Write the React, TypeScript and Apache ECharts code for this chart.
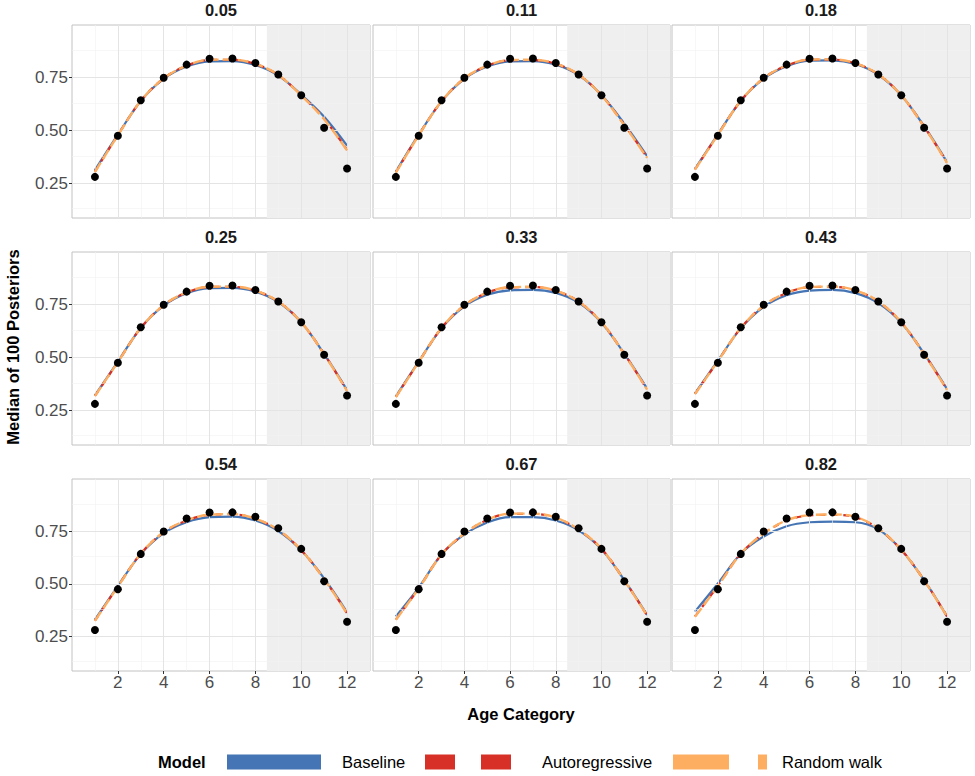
import React, { useEffect, useRef } from "react";
import * as echarts from "echarts";

// ---------- data ----------
const ages = [1, 2, 3, 4, 5, 6, 7, 8, 9, 10, 11, 12];
const panelLabels = ["0.05", "0.11", "0.18", "0.25", "0.33", "0.43", "0.54", "0.67", "0.82"];
const observed = [0.28, 0.475, 0.643, 0.75, 0.812, 0.84, 0.841, 0.82, 0.765, 0.667, 0.513, 0.32];

const baseline = [
  [0.312, 0.48, 0.64, 0.745, 0.803, 0.828, 0.829, 0.81, 0.76, 0.67, 0.565, 0.428],
  [0.305, 0.48, 0.638, 0.745, 0.803, 0.828, 0.829, 0.812, 0.763, 0.668, 0.532, 0.378],
  [0.318, 0.482, 0.64, 0.746, 0.805, 0.831, 0.832, 0.815, 0.764, 0.667, 0.52, 0.35],
  [0.32, 0.48, 0.64, 0.746, 0.805, 0.829, 0.83, 0.812, 0.763, 0.667, 0.517, 0.345],
  [0.316, 0.48, 0.638, 0.742, 0.797, 0.818, 0.82, 0.806, 0.76, 0.665, 0.518, 0.352],
  [0.33, 0.485, 0.638, 0.74, 0.795, 0.817, 0.82, 0.805, 0.758, 0.665, 0.518, 0.35],
  [0.33, 0.49, 0.642, 0.742, 0.794, 0.818, 0.821, 0.802, 0.752, 0.66, 0.526, 0.365],
  [0.345, 0.482, 0.64, 0.736, 0.793, 0.818, 0.818, 0.802, 0.755, 0.665, 0.518, 0.352],
  [0.368, 0.502, 0.644, 0.726, 0.775, 0.794, 0.797, 0.794, 0.76, 0.663, 0.518, 0.345],
];
const autoregressive = [
  [0.305, 0.478, 0.64, 0.747, 0.807, 0.834, 0.835, 0.815, 0.763, 0.667, 0.555, 0.408],
  [0.302, 0.478, 0.638, 0.747, 0.807, 0.833, 0.834, 0.816, 0.765, 0.667, 0.527, 0.372],
  [0.315, 0.48, 0.64, 0.748, 0.808, 0.835, 0.836, 0.818, 0.766, 0.667, 0.518, 0.347],
  [0.318, 0.478, 0.64, 0.748, 0.808, 0.834, 0.835, 0.816, 0.765, 0.667, 0.516, 0.342],
  [0.313, 0.478, 0.64, 0.747, 0.807, 0.832, 0.834, 0.816, 0.765, 0.667, 0.517, 0.348],
  [0.327, 0.482, 0.64, 0.745, 0.806, 0.833, 0.835, 0.818, 0.765, 0.667, 0.517, 0.347],
  [0.325, 0.488, 0.644, 0.746, 0.802, 0.829, 0.832, 0.81, 0.756, 0.661, 0.524, 0.36],
  [0.33, 0.478, 0.64, 0.739, 0.805, 0.834, 0.834, 0.815, 0.758, 0.668, 0.518, 0.35],
  [0.345, 0.49, 0.644, 0.739, 0.802, 0.826, 0.829, 0.818, 0.763, 0.663, 0.518, 0.345],
];
const randomWalk = [
  [0.303, 0.477, 0.64, 0.747, 0.807, 0.835, 0.836, 0.816, 0.763, 0.666, 0.553, 0.405],
  [0.3, 0.477, 0.638, 0.747, 0.807, 0.834, 0.835, 0.817, 0.765, 0.666, 0.525, 0.37],
  [0.314, 0.479, 0.64, 0.748, 0.808, 0.836, 0.837, 0.819, 0.766, 0.667, 0.517, 0.346],
  [0.317, 0.478, 0.64, 0.748, 0.809, 0.835, 0.836, 0.817, 0.765, 0.667, 0.515, 0.341],
  [0.312, 0.478, 0.64, 0.747, 0.808, 0.833, 0.835, 0.817, 0.765, 0.667, 0.516, 0.347],
  [0.326, 0.482, 0.64, 0.745, 0.807, 0.834, 0.836, 0.819, 0.766, 0.667, 0.516, 0.346],
  [0.324, 0.487, 0.644, 0.747, 0.803, 0.83, 0.833, 0.811, 0.757, 0.661, 0.523, 0.359],
  [0.329, 0.478, 0.64, 0.74, 0.806, 0.835, 0.835, 0.816, 0.759, 0.668, 0.517, 0.349],
  [0.343, 0.489, 0.644, 0.74, 0.803, 0.828, 0.831, 0.82, 0.764, 0.663, 0.517, 0.344],
];

const xTicks = [2, 4, 6, 8, 10, 12];
const xMinor = [1, 3, 5, 7, 9, 11];
const yTicks = [0.25, 0.5, 0.75];
const yMinor = [0.125, 0.375, 0.625, 0.875];
const shadeFrom = 8.5;
const legendLabels = ["Baseline", "Autoregressive", "Random walk"];

// ---------- style ----------
const FONT = "'Liberation Sans', Arial, Helvetica, sans-serif";
const BLUE = "#4575b4";
const RED = "#d73027";
const ORANGE = "#fdae61";
const X_MIN = 0;
const X_MAX = 13;
const Y_MIN = 0.085;
const Y_MAX = 1.0;

const colLeft = [72, 373, 672];
const colWidth = [298, 297, 298];
const rowTop = [25, 252, 479];
const rowHeight = [193, 193, 192];

function buildOption() {
  const grid: any[] = [];
  const xAxis: any[] = [];
  const yAxis: any[] = [];
  const series: any[] = [];
  const graphic: any[] = [];

  panelLabels.forEach((label, i) => {
    const r = Math.floor(i / 3);
    const c = i % 3;
    grid.push({
      left: colLeft[c],
      top: rowTop[r],
      width: colWidth[c],
      height: rowHeight[r],
      show: true,
      borderColor: "#c2c2c2",
      borderWidth: 1,
      backgroundColor: "#ffffff",
      containLabel: false,
    });
    xAxis.push({
      gridIndex: i,
      type: "value",
      min: X_MIN,
      max: X_MAX,
      axisLine: { show: false },
      axisTick: {
        show: r === 2,
        customValues: xTicks,
        length: 3,
        lineStyle: { color: "#333333", width: 1 },
      },
      axisLabel: {
        show: r === 2,
        customValues: xTicks,
        fontSize: 17,
        fontFamily: FONT,
        color: "#4d4d4d",
        margin: 3,
      },
      splitLine: { show: false },
    });
    yAxis.push({
      gridIndex: i,
      type: "value",
      min: Y_MIN,
      max: Y_MAX,
      axisLine: { show: false },
      axisTick: {
        show: c === 0,
        customValues: yTicks,
        length: 3,
        lineStyle: { color: "#333333", width: 1 },
      },
      axisLabel: {
        show: c === 0,
        customValues: yTicks,
        fontSize: 17,
        fontFamily: FONT,
        color: "#4d4d4d",
        margin: 4,
        formatter: (v: number) => v.toFixed(2),
      },
      splitLine: { show: false },
    });

    const majorStyle = { color: "#e4e4e4", width: 1, type: "solid" };
    const minorStyle = { color: "#f1f1f1", width: 0.6, type: "solid" };
    const gridLines: any[] = [
      ...xMinor.map((v) => ({ xAxis: v, lineStyle: minorStyle })),
      ...yMinor.map((v) => ({ yAxis: v, lineStyle: minorStyle })),
      ...xTicks.map((v) => ({ xAxis: v, lineStyle: majorStyle })),
      ...yTicks.map((v) => ({ yAxis: v, lineStyle: majorStyle })),
    ];
    series.push({
      type: "line",
      xAxisIndex: i,
      yAxisIndex: i,
      data: [],
      z: 1,
      silent: true,
      markLine: {
        silent: true,
        symbol: ["none", "none"],
        label: { show: false },
        animation: false,
        data: gridLines,
      },
    });
    series.push({
      type: "line",
      xAxisIndex: i,
      yAxisIndex: i,
      data: [],
      z: 2,
      silent: true,
      markArea: {
        silent: true,
        itemStyle: { color: "#efefef" },
        label: { show: false },
        data: [[{ xAxis: shadeFrom }, { xAxis: X_MAX }]],
      },
    });
    series.push({
      name: legendLabels[0],
      type: "line",
      xAxisIndex: i,
      yAxisIndex: i,
      data: ages.map((a, k) => [a, baseline[i][k]]),
      smooth: 0.35,
      showSymbol: false,
      z: 3,
      lineStyle: { color: BLUE, width: 2.2 },
    });
    series.push({
      name: legendLabels[1],
      type: "line",
      xAxisIndex: i,
      yAxisIndex: i,
      data: ages.map((a, k) => [a, autoregressive[i][k]]),
      smooth: 0.35,
      showSymbol: false,
      z: 4,
      lineStyle: { color: RED, width: 2.2, type: [6, 6] },
    });
    series.push({
      name: legendLabels[2],
      type: "line",
      xAxisIndex: i,
      yAxisIndex: i,
      data: ages.map((a, k) => [a, randomWalk[i][k]]),
      smooth: 0.35,
      showSymbol: false,
      z: 5,
      lineStyle: { color: ORANGE, width: 2.4, type: [11, 4] },
    });
    series.push({
      name: "Observed",
      type: "scatter",
      xAxisIndex: i,
      yAxisIndex: i,
      data: ages.map((a, k) => [a, observed[k]]),
      symbolSize: 8,
      z: 6,
      itemStyle: { color: "#000000", opacity: 1 },
    });

    graphic.push({
      type: "text",
      x: colLeft[c] + colWidth[c] / 2,
      y: rowTop[r] - 15,
      style: {
        text: label,
        fontSize: 16.5,
        fontWeight: "bold",
        fontFamily: FONT,
        fill: "#1a1a1a",
        align: "center",
        verticalAlign: "middle",
        textAlign: "center",
        textVerticalAlign: "middle",
      },
    });
  });

  // axis titles
  graphic.push({
    type: "text",
    x: 521,
    y: 714,
    style: {
      text: "Age Category",
      fontSize: 16.5,
      fontWeight: "bold",
      fontFamily: FONT,
      fill: "#000000",
      align: "center",
      verticalAlign: "middle",
      textAlign: "center",
      textVerticalAlign: "middle",
    },
  });
  graphic.push({
    type: "text",
    x: 13,
    y: 347,
    rotation: Math.PI / 2,
    style: {
      text: "Median of 100 Posteriors",
      fontSize: 16.5,
      fontWeight: "bold",
      fontFamily: FONT,
      fill: "#000000",
      align: "center",
      verticalAlign: "middle",
      textAlign: "center",
      textVerticalAlign: "middle",
    },
  });

  // legend
  const ly = 762;
  const txt = (text: string, x: number, bold = false) => ({
    type: "text",
    x,
    y: ly,
    style: {
      text,
      fontSize: 16.5,
      fontWeight: bold ? "bold" : "normal",
      fontFamily: FONT,
      fill: "#000000",
      align: "left",
      verticalAlign: "middle",
      textAlign: "left",
      textVerticalAlign: "middle",
    },
  });
  const key = (x: number, w: number, color: string) => ({
    type: "rect",
    shape: { x, y: ly - 7.5, width: w, height: 15 },
    style: { fill: color },
  });
  graphic.push(txt("Model", 158, true));
  graphic.push(key(227, 94, BLUE));
  graphic.push(txt(legendLabels[0], 342));
  graphic.push(key(425, 30, RED));
  graphic.push(key(481, 30, RED));
  graphic.push(txt(legendLabels[1], 542));
  graphic.push(key(673, 56, ORANGE));
  graphic.push(key(758, 9, ORANGE));
  graphic.push(txt(legendLabels[2], 782));

  return {
    animation: false,
    backgroundColor: "#ffffff",
    textStyle: { fontFamily: FONT },
    grid,
    xAxis,
    yAxis,
    series,
    graphic,
  };
}

export default function App() {
  const ref = useRef<HTMLDivElement>(null);
  useEffect(() => {
    document.body.style.margin = "0";
    if (!ref.current) return;
    const chart = echarts.init(ref.current, undefined, { renderer: "svg" });
    chart.setOption(buildOption() as any);
    return () => chart.dispose();
  }, []);
  return <div ref={ref} style={{ width: 975, height: 776 }} />;
}
